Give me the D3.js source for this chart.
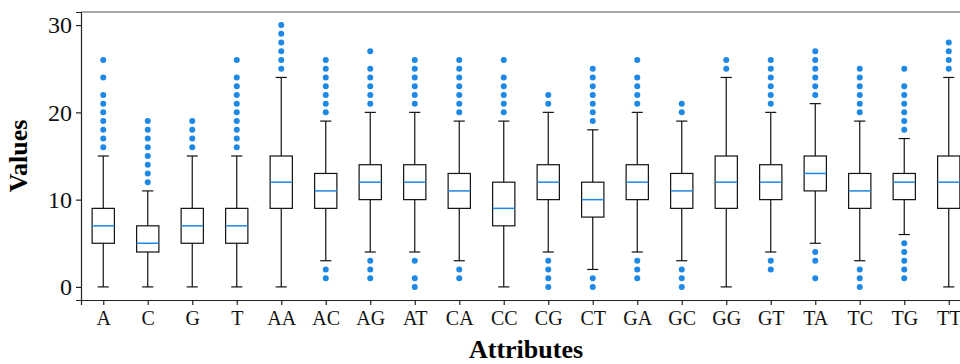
<!DOCTYPE html>
<html>
<head>
<meta charset="utf-8">
<script src="https://cdn.jsdelivr.net/npm/d3@7"></script>
<style>
  body { margin: 0; background: #fff; }
  svg { display: block; }
  .tick text { font-family: "Liberation Serif", serif; fill: #111; }
</style>
</head>
<body>
<svg width="960" height="364"></svg>
<script>
const categories = ["A", "C", "G", "T", "AA", "AC", "AG", "AT", "CA", "CC",
                    "CG", "CT", "GA", "GC", "GG", "GT", "TA", "TC", "TG", "TT"];
const whiskerLow  = [0, 0, 0, 0, 0, 3, 4, 4, 3, 0, 4, 2, 4, 3, 0, 4, 5, 3, 6, 0];
const q1          = [5, 4, 5, 5, 9, 9, 10, 10, 9, 7, 10, 8, 10, 9, 9, 10, 11, 9, 10, 9];
const medians     = [7, 5, 7, 7, 12, 11, 12, 12, 11, 9, 12, 10, 12, 11, 12, 12, 13, 11, 12, 12];
const q3          = [9, 7, 9, 9, 15, 13, 14, 14, 13, 12, 14, 12, 14, 13, 15, 14, 15, 13, 13, 15];
const whiskerHigh = [15, 11, 15, 15, 24, 19, 20, 20, 19, 19, 20, 18, 20, 19, 24, 20, 21, 19, 17, 24];
const outliers = [
  [16, 17, 18, 19, 20, 21, 22, 24, 26],
  [12, 13, 14, 15, 16, 17, 18, 19],
  [16, 17, 18, 19],
  [16, 17, 18, 19, 20, 21, 22, 23, 24, 26],
  [25, 26, 27, 28, 29, 30],
  [1, 2, 20, 21, 22, 23, 24, 25, 26],
  [1, 2, 3, 21, 22, 23, 24, 25, 27],
  [0, 1, 3, 21, 22, 23, 24, 25, 26],
  [1, 2, 20, 21, 22, 23, 24, 25, 26],
  [20, 21, 22, 23, 24, 26],
  [0, 1, 2, 3, 21, 22],
  [0, 1, 19, 20, 21, 22, 23, 24, 25],
  [1, 2, 3, 21, 22, 23, 24, 26],
  [0, 1, 2, 20, 21],
  [25, 26],
  [2, 3, 21, 22, 23, 24, 25, 26],
  [1, 3, 4, 22, 23, 24, 25, 26, 27],
  [0, 1, 2, 20, 21, 22, 23, 24, 25],
  [1, 2, 3, 4, 5, 18, 19, 20, 21, 22, 23, 25],
  [25, 26, 27, 28]
];
const yTicks = [0, 10, 20, 30];

const svg = d3.select("svg");
const plotLeft = 81, plotTop = 12, plotBottom = 300;
const unit = 44.5;
const blue = "#1e88e5";

const x = d3.scaleLinear().domain([0.5, categories.length + 0.5])
  .range([plotLeft, plotLeft + unit * categories.length]);
const y = d3.scaleLinear().domain([-1.5, 31.5]).range([plotBottom, plotTop]);

const boxes = categories.map((c, i) => ({
  name: c, pos: i + 1,
  lo: whiskerLow[i], q1: q1[i], med: medians[i], q3: q3[i], hi: whiskerHigh[i],
  out: outliers[i]
}));

const boxW = 0.5, capW = 0.25;

const g = svg.selectAll("g.box")
  .data(boxes)
  .enter()
  .append("g")
  .attr("class", "box");

// whiskers
g.append("line")
  .attr("x1", d => x(d.pos)).attr("x2", d => x(d.pos))
  .attr("y1", d => y(d.q3)).attr("y2", d => y(d.hi))
  .attr("stroke", "#111").attr("stroke-width", 1.2);
g.append("line")
  .attr("x1", d => x(d.pos)).attr("x2", d => x(d.pos))
  .attr("y1", d => y(d.q1)).attr("y2", d => y(d.lo))
  .attr("stroke", "#111").attr("stroke-width", 1.2);

// caps
g.append("line")
  .attr("x1", d => x(d.pos - capW / 2)).attr("x2", d => x(d.pos + capW / 2))
  .attr("y1", d => y(d.hi)).attr("y2", d => y(d.hi))
  .attr("stroke", "#111").attr("stroke-width", 1.2);
g.append("line")
  .attr("x1", d => x(d.pos - capW / 2)).attr("x2", d => x(d.pos + capW / 2))
  .attr("y1", d => y(d.lo)).attr("y2", d => y(d.lo))
  .attr("stroke", "#111").attr("stroke-width", 1.2);

// box
g.append("rect")
  .attr("x", d => x(d.pos - boxW / 2))
  .attr("width", d => x(d.pos + boxW / 2) - x(d.pos - boxW / 2))
  .attr("y", d => y(d.q3))
  .attr("height", d => y(d.q1) - y(d.q3))
  .attr("fill", "none")
  .attr("stroke", "#111").attr("stroke-width", 1.2);

// median
g.append("line")
  .attr("x1", d => x(d.pos - boxW / 2)).attr("x2", d => x(d.pos + boxW / 2))
  .attr("y1", d => y(d.med)).attr("y2", d => y(d.med))
  .attr("stroke", blue).attr("stroke-width", 1.5);

// outliers
g.selectAll("circle")
  .data(d => d.out.map(v => ({ pos: d.pos, v: v })))
  .enter()
  .append("circle")
  .attr("cx", d => x(d.pos))
  .attr("cy", d => y(d.v))
  .attr("r", 3)
  .attr("fill", blue);

// axes
const yAxis = svg.append("g")
  .attr("transform", `translate(${plotLeft},0)`)
  .call(d3.axisLeft(y).tickValues(yTicks).tickSize(5).tickPadding(4));
yAxis.selectAll("text").style("font-size", "24px");

const xAxis = svg.append("g")
  .attr("transform", `translate(0,${plotBottom})`)
  .call(d3.axisBottom(x).tickValues(boxes.map(d => d.pos))
    .tickFormat((d, i) => categories[i]).tickSize(5).tickPadding(6));
xAxis.selectAll("text").style("font-size", "20px");

[yAxis, xAxis].forEach(a => {
  a.select(".domain").attr("stroke", "#222").attr("stroke-width", 1.2);
  a.selectAll(".tick line").attr("stroke", "#222").attr("stroke-width", 1.2);
});

// top spine
svg.append("line")
  .attr("x1", plotLeft).attr("x2", x(categories.length + 0.5))
  .attr("y1", plotTop).attr("y2", plotTop)
  .attr("stroke", "#555").attr("stroke-width", 1.2);

// labels
svg.append("text")
  .attr("transform", `translate(27,${(plotTop + plotBottom) / 2}) rotate(-90)`)
  .attr("text-anchor", "middle")
  .style("font-family", "Liberation Serif, serif")
  .style("font-weight", "bold")
  .style("font-size", "26px")
  .text("Values");

svg.append("text")
  .attr("x", (x.range()[0] + x.range()[1]) / 2)
  .attr("y", 358)
  .attr("text-anchor", "middle")
  .style("font-family", "Liberation Serif, serif")
  .style("font-weight", "bold")
  .style("font-size", "26px")
  .text("Attributes");
</script>
</body>
</html>
